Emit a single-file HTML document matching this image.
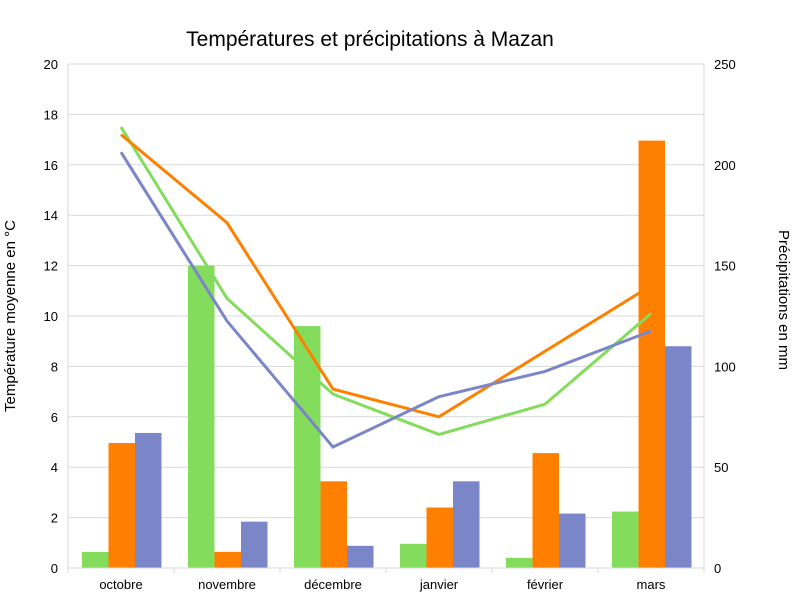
<!DOCTYPE html>
<html><head><meta charset="utf-8"><style>
body{margin:0;background:#fff;font-family:"Liberation Sans",sans-serif}
svg text{font-family:"Liberation Sans",sans-serif}
</style></head><body>
<svg id="c" width="800" height="600"></svg>
<script>
const categories=["octobre","novembre","décembre","janvier","février","mars"];
const barGreen=[8,150,120,12,5,28];
const barOrange=[62,8,43,30,57,212];
const barBlue=[67,23,11,43,27,110];
const lineGreen=[17.5,10.7,6.9,5.3,6.5,10.1];
const lineOrange=[17.2,13.7,7.1,6.0,8.6,11.2];
const lineBlue=[16.5,9.8,4.8,6.8,7.8,9.4];
const leftTicks=[0,2,4,6,8,10,12,14,16,18,20];
const rightTicks=[0,50,100,150,200,250];
const svg=document.getElementById('c');const NS='http://www.w3.org/2000/svg';
const X0=68,X1=704,Y0=568,Y1=64,GW=(X1-X0)/categories.length;
const yL=v=>Y0-(v/20)*(Y0-Y1);const yR=v=>Y0-(v/250)*(Y0-Y1);
const xC=i=>X0+GW*(i+0.5);
function mk(t,a,txt){const e=document.createElementNS(NS,t);for(const k in a)e.setAttribute(k,a[k]);if(txt!==undefined)e.textContent=txt;svg.appendChild(e);return e;}
leftTicks.forEach(v=>{
 const g=mk('line',{x1:X0,x2:X1,y1:yL(v),y2:yL(v),stroke:'#d9d9d9'});
 
 
 const t=mk('text',{x:58,y:yL(v)+5,'text-anchor':'end','font-size':13},v);
 
 
});
rightTicks.forEach(v=>{
 const t=mk('text',{x:714,y:yR(v)+5,'font-size':13},v);
 
 
});
mk('line',{x1:X0,x2:X0,y1:Y1,y2:Y0+5,stroke:'#d9d9d9'});
mk('line',{x1:X1,x2:X1,y1:Y1,y2:Y0+5,stroke:'#d9d9d9'});
for(let i=1;i<categories.length;i++)mk('line',{x1:X0+GW*i,x2:X0+GW*i,y1:Y0,y2:Y0+5,stroke:'#d9d9d9'});
const BW=26.5,OFF=14;
[[barGreen,'#83dc5c'],[barOrange,'#ff8000'],[barBlue,'#7b86c9']].forEach(([arr,col],s)=>{
 arr.forEach((v,i)=>{
  const r=mk('rect',{x:X0+GW*i+OFF+BW*s,y:yR(v),width:BW,height:Y0-yR(v),fill:col});
  
  
 });
});
mk('line',{x1:X0,x2:X1,y1:Y0,y2:Y0,stroke:'#d9d9d9'});
[[lineGreen,'#83dc5c'],[lineOrange,'#ff8000'],[lineBlue,'#7b86c9']].forEach(([arr,col],s)=>{
 const p=mk('polyline',{points:arr.map((v,i)=>xC(i)+','+yL(v)).join(' '),fill:'none',stroke:col,'stroke-width':3});
 
 
});
categories.forEach((c,i)=>{
 const t=mk('text',{x:xC(i),y:589,'text-anchor':'middle','font-size':13},c);
 
 
});
const tt=mk('text',{x:370,y:46,'text-anchor':'middle','font-size':21},'Températures et précipitations à Mazan');

const yl=mk('text',{x:0,y:0,'text-anchor':'middle','font-size':15,transform:'translate(15,316) rotate(-90)'},'Température moyenne en °C');

const yr=mk('text',{x:0,y:0,'text-anchor':'middle','font-size':15,transform:'translate(779,300) rotate(90)'},'Précipitations en mm');

</script>
</body></html>
